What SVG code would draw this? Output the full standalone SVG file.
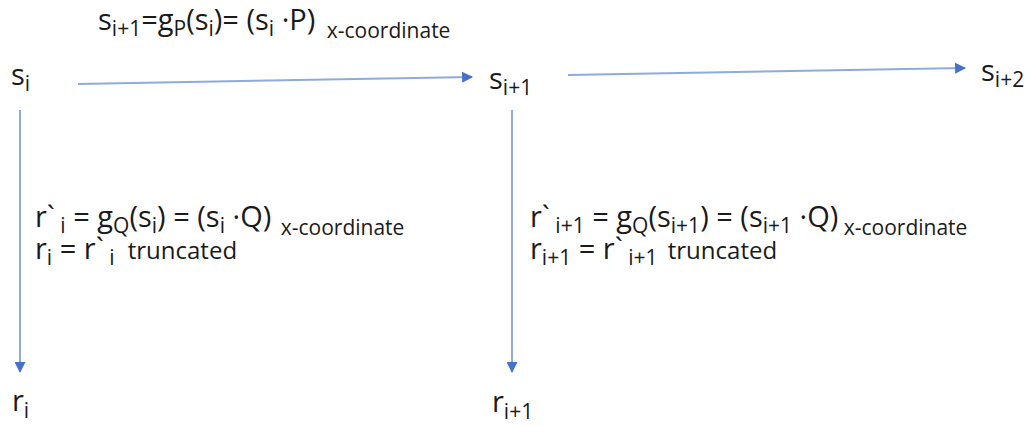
<svg xmlns="http://www.w3.org/2000/svg" width="1030" height="426" viewBox="0 0 1030 426">
<style>
text{font-family:"Open Sans","Noto Sans",sans-serif;font-size:29px;fill:#1a1a1a}
.sb{font-size:21px}
.sm{font-size:21px}
.tr{font-size:24px}
.c{stroke:#8faadc;stroke-width:2;fill:none}
</style>
<defs>
<marker id="ah" viewBox="0 0 10 10" refX="9" refY="5" markerWidth="12" markerHeight="11" markerUnits="userSpaceOnUse" orient="auto">
<path d="M0,0 L10,5 L0,10 z" fill="#4472c4"/>
</marker>
</defs>
<rect width="1030" height="426" fill="#fff"/>
<g id="connectors">
<line class="c" x1="78" y1="84" x2="472" y2="77" marker-end="url(#ah)"/>
<line class="c" x1="568" y1="75" x2="965" y2="68" marker-end="url(#ah)"/>
<line class="c" x1="20" y1="110" x2="20" y2="372" marker-end="url(#ah)"/>
<line class="c" x1="512" y1="110" x2="512" y2="372" marker-end="url(#ah)"/>
</g>
<g id="formula-top">
<text x="98" y="30">s<tspan class="sb" dy="6">i+1</tspan><tspan dy="-6">=g</tspan><tspan class="sb" dy="6">P</tspan><tspan dy="-6">(s</tspan><tspan class="sb" dy="6">i</tspan><tspan dy="-6">)= (s</tspan><tspan class="sb" dy="6">i</tspan><tspan dy="-6"> ·P)</tspan><tspan class="sm" dy="8" dx="6"> x-coordinate</tspan></text>
</g>
<g id="node-si"><text x="11" y="85">s<tspan class="sb" dy="6">i</tspan></text></g>
<g id="node-si1"><text x="489" y="89">s<tspan class="sb" dy="6">i+1</tspan></text></g>
<g id="node-si2"><text x="981" y="81">s<tspan class="sb" dy="6">i+2</tspan></text></g>
<g id="node-ri"><text x="12" y="411">r<tspan class="sb" dy="7">i</tspan></text></g>
<g id="node-ri1"><text x="492" y="412">r<tspan class="sb" dy="7">i+1</tspan></text></g>
<g id="formula-left">
<text x="35" y="227">r`<tspan class="sb" dy="6"> i</tspan><tspan dy="-6"> = g</tspan><tspan class="sb" dy="6">Q</tspan><tspan dy="-6">(s</tspan><tspan class="sb" dy="6">i</tspan><tspan dy="-6">) = (s</tspan><tspan class="sb" dy="6">i</tspan><tspan dy="-6"> ·Q)</tspan><tspan class="sm" dy="8" dx="4"> x-coordinate</tspan></text>
<text x="35" y="259">r<tspan class="sb" dy="6">i</tspan><tspan dy="-6"> = r`</tspan><tspan class="sb" dy="6"> i</tspan><tspan class="tr" dy="-6" dx="7">  truncated</tspan></text>
</g>
<g id="formula-right">
<text x="530" y="227">r`<tspan class="sb" dy="6"> i+1</tspan><tspan dy="-6"> = g</tspan><tspan class="sb" dy="6">Q</tspan><tspan dy="-6">(s</tspan><tspan class="sb" dy="6">i+1</tspan><tspan dy="-6">) = (s</tspan><tspan class="sb" dy="6">i+1</tspan><tspan dy="-6"> ·Q)</tspan><tspan class="sm" dy="8"> x-coordinate</tspan></text>
<text x="530" y="259">r<tspan class="sb" dy="6">i+1</tspan><tspan dy="-6"> = r`</tspan><tspan class="sb" dy="6"> i+1</tspan><tspan class="tr" dy="-6" dx="4">  truncated</tspan></text>
</g>
</svg>
